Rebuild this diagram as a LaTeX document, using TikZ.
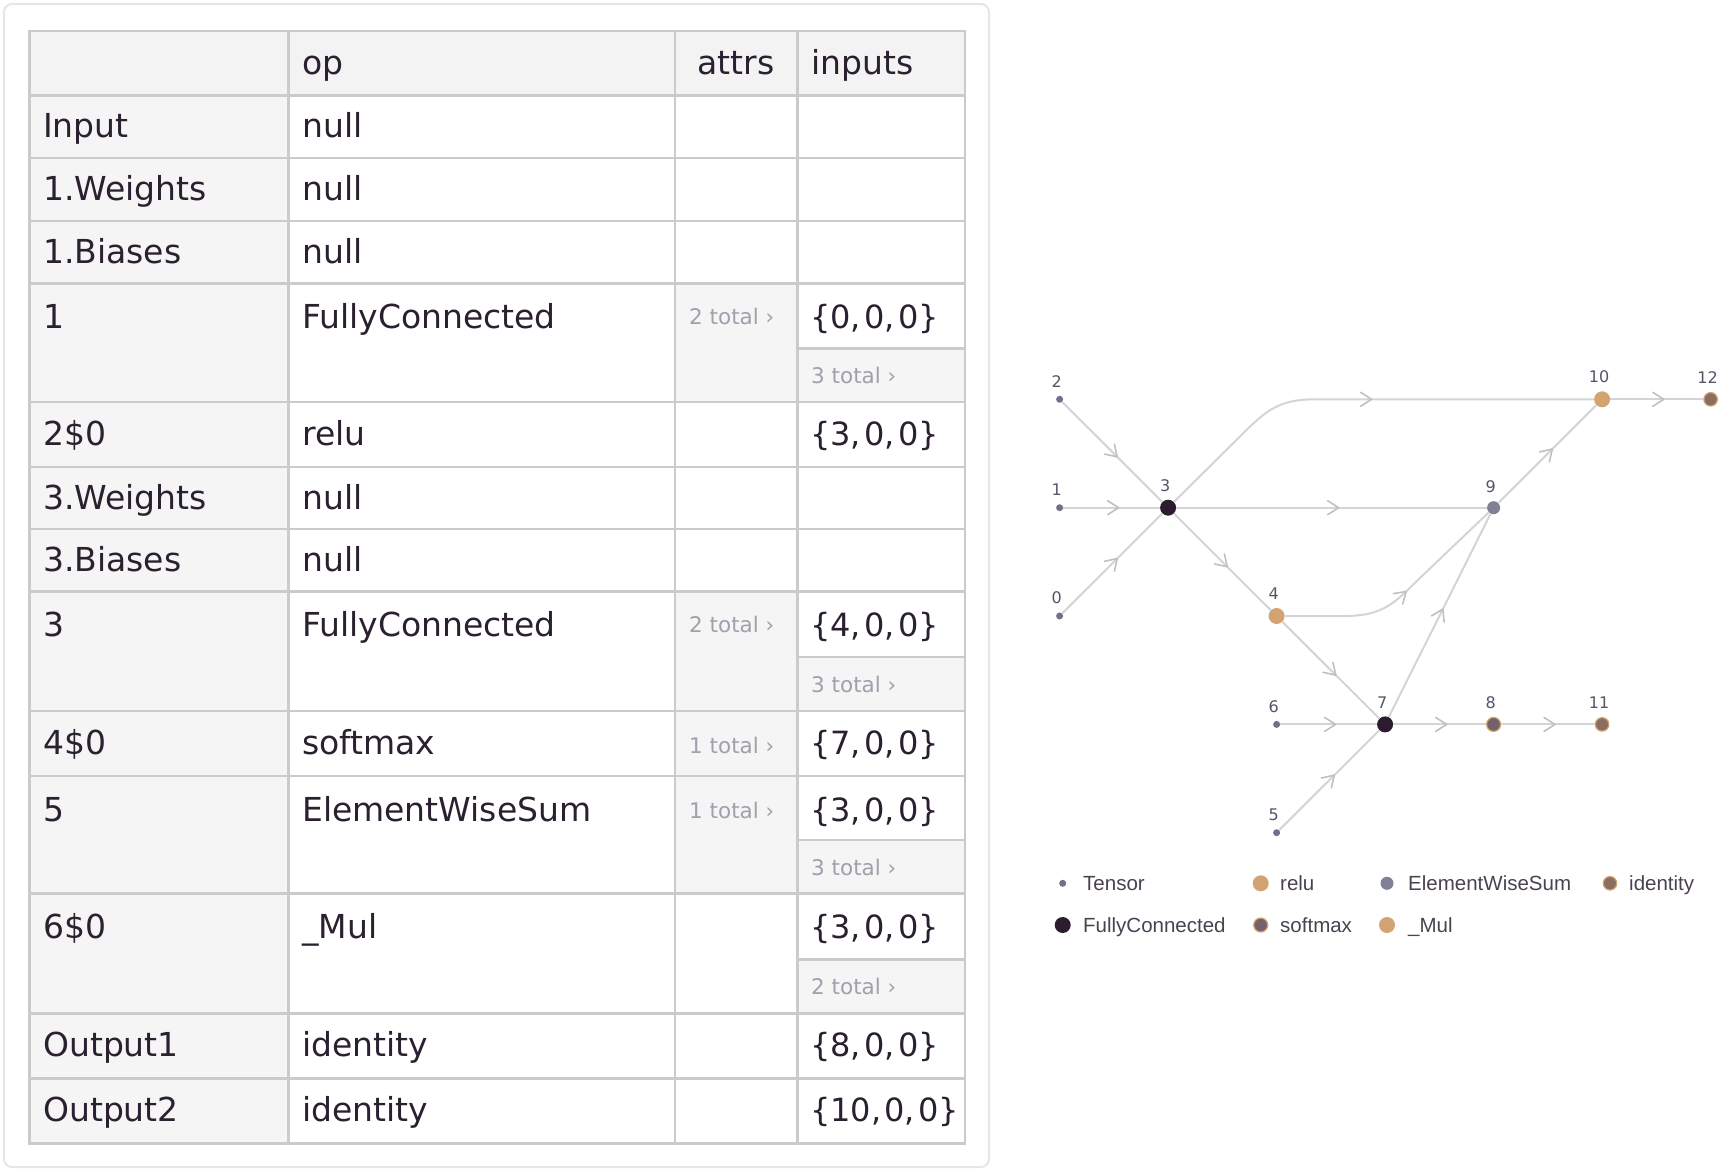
\documentclass[tikz,border=0pt]{standalone}
\usepackage{fontspec}
\setmainfont{DejaVu Sans}
\newfontfamily\legendfont{Liberation Sans}
\usetikzlibrary{positioning, decorations.markings}

\newcommand\tupfont{\fontsize{32}{40}\selectfont\spaceskip=.1em\relax}

\definecolor{ink}{RGB}{42,32,48}
\definecolor{gridc}{RGB}{203,203,203}
\definecolor{framec}{RGB}{230,230,230}
\definecolor{hdrbg}{RGB}{243,243,243}
\definecolor{cellbg}{RGB}{245,245,245}
\definecolor{faint}{RGB}{160,160,172}
\definecolor{edgec}{RGB}{212,212,212}
\definecolor{barbc}{RGB}{192,192,192}
\definecolor{tensorc}{RGB}{112,112,138}
\definecolor{fcc}{RGB}{45,28,48}
\definecolor{reluc}{RGB}{212,163,115}
\definecolor{ewsc}{RGB}{127,127,149}
\definecolor{smaxc}{RGB}{117,97,106}
\definecolor{idc}{RGB}{138,110,96}
\definecolor{lblc}{RGB}{85,85,102}
\definecolor{legc}{RGB}{74,66,80}

\begin{document}
\begin{tikzpicture}[x=1pt, y=-1pt,
    cell/.style={anchor=base west, inner sep=0pt, text=ink, font=\fontsize{33}{40}\selectfont},
    tup/.style={cell, font=\tupfont},
    more/.style={anchor=west, inner sep=0pt, text=faint, font=\fontsize{21.5}{26}\selectfont},
    gridline/.style={draw=gridc, line width=2.5pt},
    dot/.style={circle, inner sep=0pt, minimum size=#1},
    tensor/.style={dot=7pt, fill=tensorc},
    fc/.style={dot=16pt, fill=fcc},
    relu/.style={dot=16pt, fill=reluc},
    ews/.style={dot=13pt, fill=ewsc},
    smax/.style={dot=14pt, fill=smaxc, draw=reluc, line width=1.2pt},
    ident/.style={dot=13.5pt, fill=idc, draw=reluc, line width=1.2pt},
    lbl/.style={inner sep=0pt, text=lblc, font=\fontsize{16}{18}\selectfont},
    leg/.style={anchor=base west, inner sep=0pt, text=legc, font=\legendfont\fontsize{20.5}{24}\selectfont},
    barb/.style={draw=barbc, line width=1.6pt, line cap=round, line join=round},
    edge/.style={draw=edgec, line width=2pt, postaction={decorate},
      decoration={markings, mark=at position 0.5 with {\draw[barb] (-4pt,7pt) -- (7pt,0pt) -- (-4pt,-7pt);}}}]

\useasboundingbox (0,0) rectangle (1725,1175);

% table
\draw[framec, line width=2pt, rounded corners=8pt] (4,4) rectangle (989,1167);
\fill[hdrbg] (29.5,31) rectangle (965,95.5);
\fill[cellbg] (29.5,95.5) rectangle (288.5,1143.5);
\foreach \ya/\yb in {283.5/402, 591.5/711, 711/776, 776/893.5}
  \fill[cellbg] (675,\ya) rectangle (797.5,\yb);
\foreach \ya/\yb in {348.5/402, 657/711, 840/893.5, 959.5/1013.5}
  \fill[cellbg] (797.5,\ya) rectangle (965,\yb);

\foreach \y in {31,95.5,158,221,283.5,402,467,529,591.5,711,776,893.5,1013.5,1078.5,1143.5}
  \draw[gridline] (28.25,\y) -- (966.25,\y);
\foreach \y in {348.5,657,840,959.5}
  \draw[gridline] (797.5,\y) -- (965,\y);
\foreach \x in {29.5,288.5,675,797.5,965}
  \draw[gridline] (\x,31) -- (\x,1143.5);

\node[cell] (hop) at (302,74) {op};
\node[cell, anchor=base] (hattrs) at (736,74) {attrs};
\node[cell] (hinputs) at (811,74) {inputs};

\foreach \y/\key/\opname [count=\i] in {137.5/Input/null, 200/1.Weights/null, 263/1.Biases/null,
    328.5/1/FullyConnected, 445/2\$0/relu, 509/3.Weights/null, 571/3.Biases/null,
    636.5/3/FullyConnected, 754/4\$0/softmax, 821/5/ElementWiseSum, 938.5/6\$0/\_Mul,
    1056/Output1/identity, 1121/Output2/identity}
{
  \node[cell] (key\i) at (43,\y) {\key};
  \node[cell] (op\i) at (302,\y) {\opname};
}

\foreach \y/\src [count=\i] in {328.5/0, 445/3, 636.5/4, 754/7, 821/3, 938.5/3, 1056/8, 1121/10}
  \node[tup] (in\i) at (810,\y) {\{\src, 0, 0\}};

\foreach \y/\cnt [count=\i] in {316.5/2, 624.5/2, 745/1, 810/1}
  \node[more] (attr\i) at (689,\y) {\cnt{} total ›};
\foreach \y/\cnt [count=\i] in {375/3, 684/3, 867/3, 986.5/2}
  \node[more] (sub\i) at (811,\y) {\cnt{} total ›};

% graph
\node[tensor] (n2) at (1059.6,399.3) {};
\node[tensor] (n1) at (1059.6,507.7) {};
\node[tensor] (n0) at (1059.6,616) {};
\node[fc] (n3) at (1168.1,507.7) {};
\node[relu] (n4) at (1276.6,616) {};
\node[tensor] (n6) at (1276.6,724.4) {};
\node[tensor] (n5) at (1276.6,832.7) {};
\node[fc] (n7) at (1385.1,724.4) {};
\node[smax] (n8) at (1493.6,724.4) {};
\node[ews] (n9) at (1493.6,507.7) {};
\node[relu] (n10) at (1602.1,399.3) {};
\node[ident] (n11) at (1602.1,724.4) {};
\node[ident] (n12) at (1710.6,399.3) {};

\foreach \idx in {0,...,12}
  \node[lbl, above=8pt of n\idx, xshift=-3pt] (l\idx) {\idx};

\coordinate (bendA) at (1245,431.5);
\coordinate (bendB) at (1315,399.3);
\coordinate (bendC) at (1345,616);
\coordinate (bendD) at (1420,578);

\draw[edge] (n2) -- (n3);
\draw[edge] (n1) -- (n3);
\draw[edge] (n0) -- (n3);
\draw[edge] (n3) -- (n4);
\draw[edge] (n3) -- (n9);
\draw[edge] (n3) -- (bendA) .. controls (1268,408.5) and (1282,399.3) .. (bendB) -- (n10);
\draw[edge] (n4) -- (bendC) .. controls (1385,616) and (1396,601) .. (bendD) -- (n9);
\draw[edge] (n4) -- (n7);
\draw[edge] (n6) -- (n7);
\draw[edge] (n5) -- (n7);
\draw[edge] (n7) -- (n8);
\draw[edge] (n7) -- (n9);
\draw[edge] (n8) -- (n11);
\draw[edge] (n9) -- (n10);
\draw[edge] (n10) -- (n12);

% legend
\node[tensor] (k1) at (1062.7,883.3) {};
\node[leg] (t1) at (1083,890.8) {Tensor};
\node[relu] (k2) at (1260.7,883.3) {};
\node[leg] (t2) at (1280,890.8) {relu};
\node[ews] (k3) at (1387,883.3) {};
\node[leg] (t3) at (1408,890.8) {ElementWiseSum};
\node[ident] (k4) at (1610,883.3) {};
\node[leg] (t4) at (1629,890.8) {identity};
\node[fc] (k5) at (1062.7,925) {};
\node[leg] (t5) at (1083,932.5) {FullyConnected};
\node[smax] (k6) at (1260.7,925) {};
\node[leg] (t6) at (1280,932.5) {softmax};
\node[relu] (k7) at (1387,925) {};
\node[leg] (t7) at (1408,932.5) {\_Mul};
\end{tikzpicture}
\end{document}
